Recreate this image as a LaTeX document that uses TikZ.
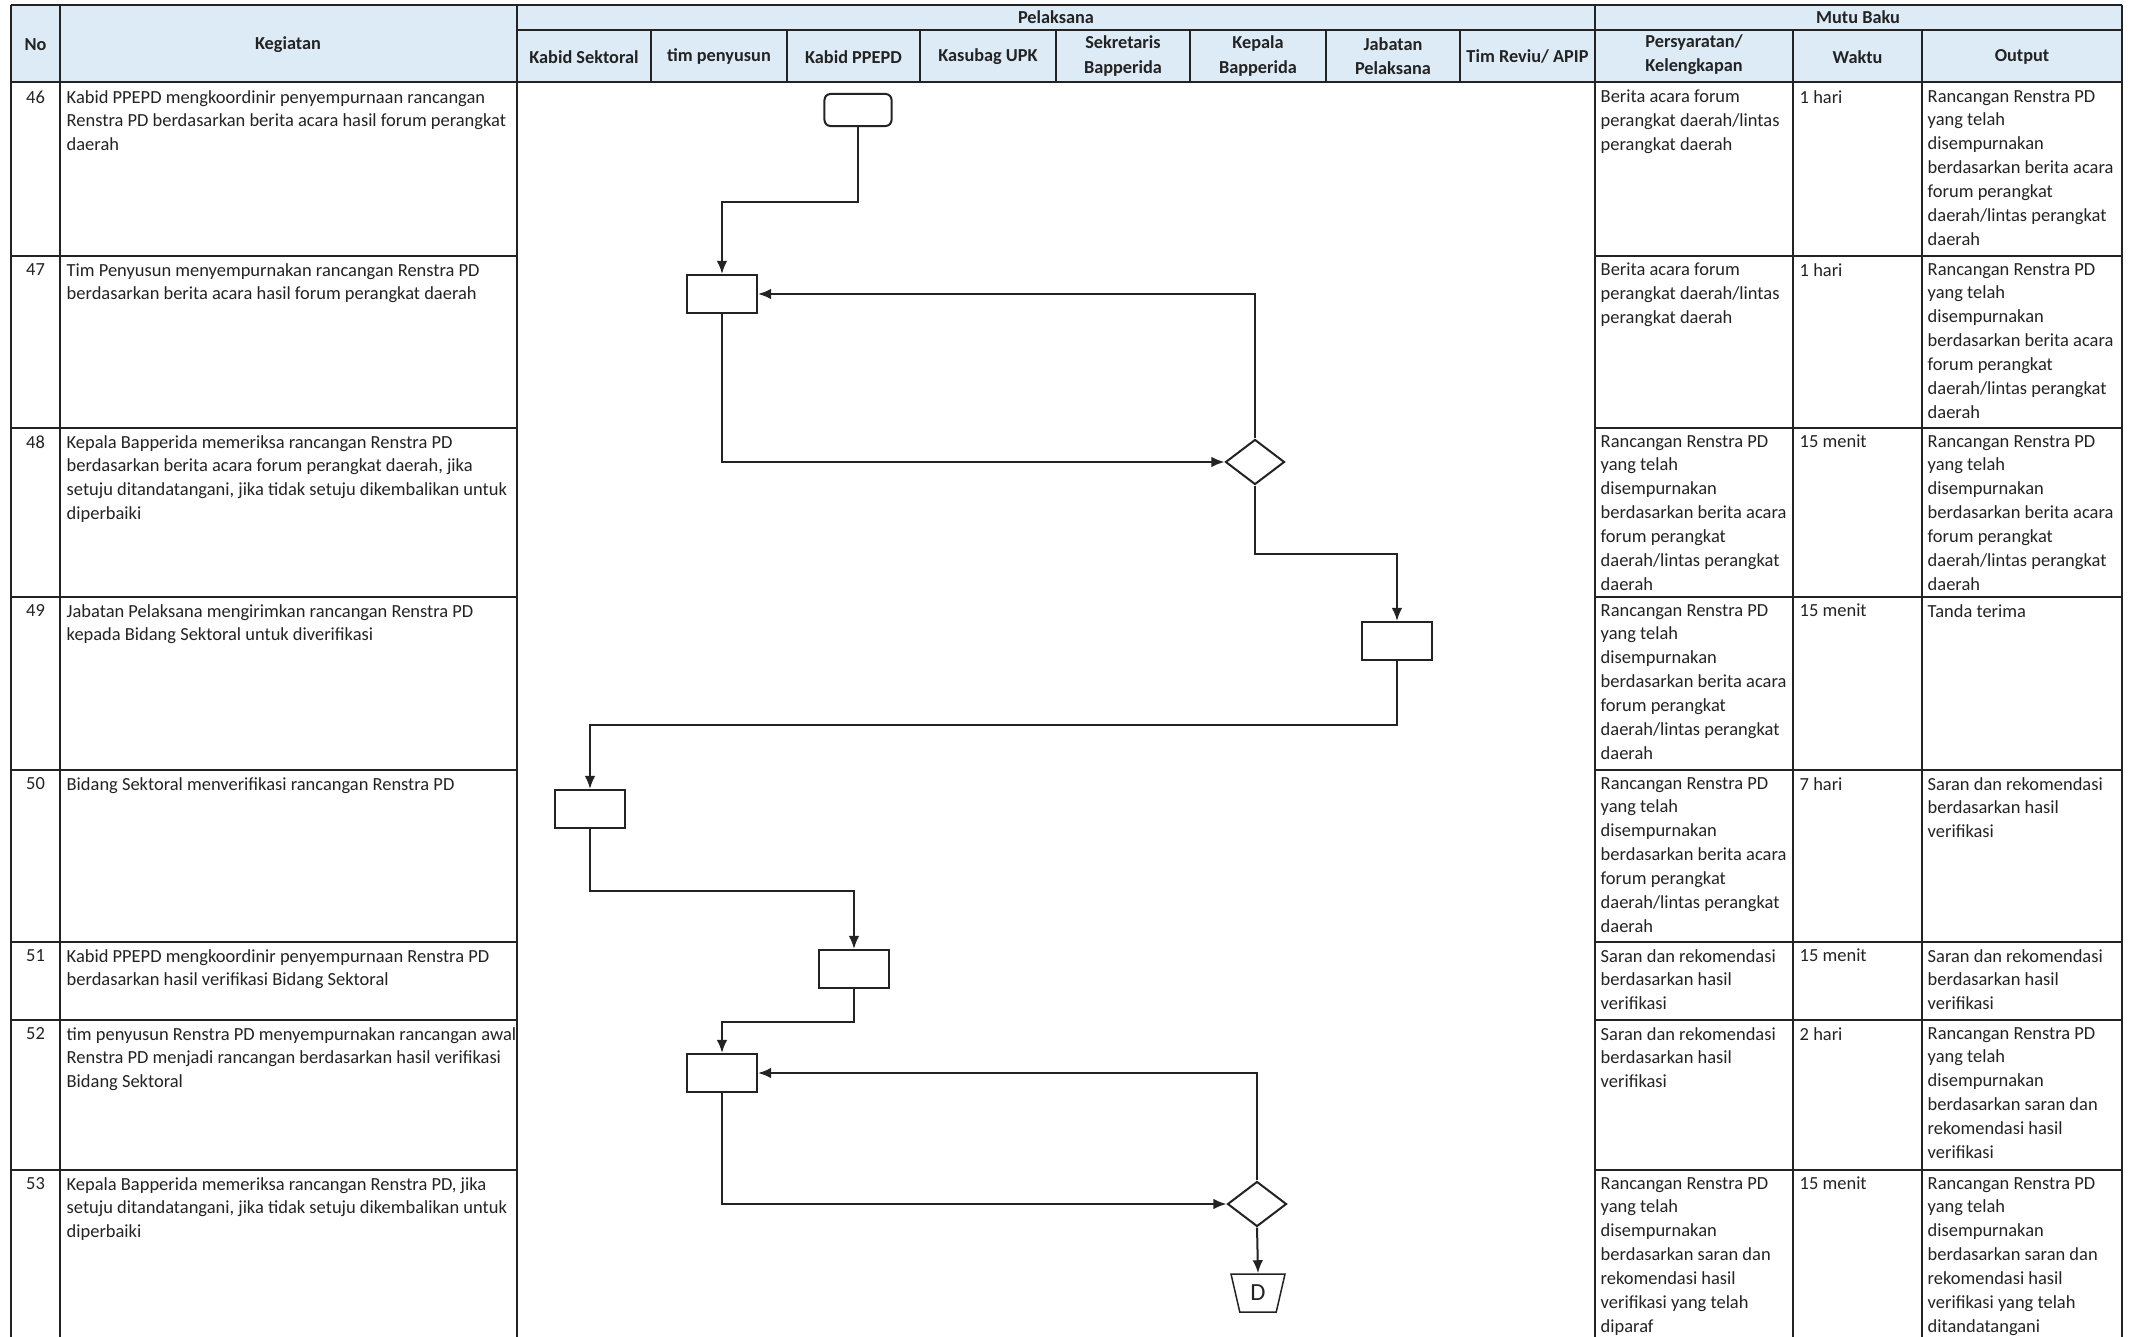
\documentclass[tikz,border=0pt]{standalone}
\usepackage{fontspec}
\setmainfont{Carlito}
\usetikzlibrary{shapes.geometric,arrows.meta}
\definecolor{ink}{RGB}{35,35,35}
\definecolor{headblue}{RGB}{221,235,246}
\newcommand{\bodyfont}{\fontsize{5.25}{6.78}\selectfont}
\newcommand{\headfont}{\fontsize{5.2}{6.9}\selectfont\bfseries}
\tikzset{
  cell/.style={anchor=north west,inner sep=0pt,align=left,font=\bodyfont,text=ink},
  nocell/.style={anchor=north,inner sep=0pt,font=\bodyfont,text=ink},
  headtxt/.style={inner sep=0pt,align=center,font=\headfont,text=ink},
  tabline/.style={line width=0.028cm,draw=ink},
  actbox/.style={draw=ink,line width=0.02cm,minimum width=0.70cm,minimum height=0.38cm,inner sep=0pt},
  startbox/.style={actbox,rounded corners=0.06cm,minimum width=0.67cm,minimum height=0.32cm},
  decide/.style={draw=ink,line width=0.02cm,diamond,minimum width=0.59cm,minimum height=0.45cm,inner sep=0pt},
  offpage/.style={draw=ink,line width=0.015cm,trapezium,shape border rotate=180,trapezium left angle=77,trapezium right angle=77,trapezium stretches=true,minimum width=0.54cm,minimum height=0.38cm,inner sep=0pt,font=\fontsize{7}{8}\selectfont,text=ink},
  flow/.style={draw=ink,line width=0.02cm,-{Latex[length=0.13cm,width=0.105cm]}},
}
\begin{document}
\begin{tikzpicture}[x=0.01cm,y=-0.01cm]
\clip (0,0) rectangle (2143,1337);
\fill[white] (0,0) rectangle (2143,1337);
\fill[headblue] (11,5) rectangle (2122,82);
\draw[tabline] (11,5) -- (2122,5);
\draw[tabline] (517,30) -- (2122,30);
\draw[tabline] (11,82) -- (2122,82);
\foreach \y in {256,428,597,770,942,1020,1170}{
  \draw[tabline] (11,\y) -- (517,\y);
  \draw[tabline] (1595,\y) -- (2122,\y);
}
\foreach \x in {11,60,517,1595,2122} \draw[tabline] (\x,5) -- (\x,1337);
\foreach \x in {651,787,920,1056,1190,1326,1460} \draw[tabline] (\x,30) -- (\x,82);
\foreach \x in {1793,1922} \draw[tabline] (\x,30) -- (\x,1337);

\node[headtxt] (hNo) at (35.5,45) {No};
\node[headtxt] (hKeg) at (288,45) {Kegiatan};
\node[headtxt] (hPel) at (1056,17.5) {Pelaksana};
\node[headtxt] (hMutu) at (1858,17.5) {Mutu Baku};
\node[headtxt] (lKabSek) at (584,57) {Kabid Sektoral};
\node[headtxt] (lTim) at (719,57) {tim penyusun};
\node[headtxt] (lKabPP) at (853.5,57) {Kabid PPEPD};
\node[headtxt] (lKasub) at (988,57) {Kasubag UPK};
\node[headtxt] (lSekre) at (1123,56) {Sekretaris\\Bapperida};
\node[headtxt] (lKepala) at (1258,56) {Kepala\\Bapperida};
\node[headtxt] (lJab) at (1393,56) {Jabatan\\Pelaksana};
\node[headtxt] (lReviu) at (1527.5,57) {Tim Reviu/ APIP};
\node[headtxt] (hSyarat) at (1694,55) {Persyaratan/\\Kelengkapan};
\node[headtxt] (hWaktu) at (1857.5,57) {Waktu};
\node[headtxt] (hOut) at (2022,57) {Output};

\node[nocell] (no46) at (35.5,90) {46};
\node[cell] (keg46) at (66,89.5) {Kabid PPEPD mengkoordinir penyempurnaan rancangan\\Renstra PD berdasarkan berita acara hasil forum perangkat\\daerah};
\node[cell] (syr46) at (1600,89.5) {Berita acara forum\\perangkat daerah/lintas\\perangkat daerah};
\node[cell] (wkt46) at (1799,89.5) {1 hari};
\node[cell] (out46) at (1927,89.5) {Rancangan Renstra PD\\yang telah\\disempurnakan\\berdasarkan berita acara\\forum perangkat\\daerah/lintas perangkat\\daerah};

\node[nocell] (no47) at (35.5,263) {47};
\node[cell] (keg47) at (66,262.5) {Tim Penyusun menyempurnakan rancangan Renstra PD\\berdasarkan berita acara hasil forum perangkat daerah};
\node[cell] (syr47) at (1600,262.5) {Berita acara forum\\perangkat daerah/lintas\\perangkat daerah};
\node[cell] (wkt47) at (1799,262.5) {1 hari};
\node[cell] (out47) at (1927,262.5) {Rancangan Renstra PD\\yang telah\\disempurnakan\\berdasarkan berita acara\\forum perangkat\\daerah/lintas perangkat\\daerah};

\node[nocell] (no48) at (35.5,435) {48};
\node[cell] (keg48) at (66,434.5) {Kepala Bapperida memeriksa rancangan Renstra PD\\berdasarkan berita acara forum perangkat daerah, jika\\setuju ditandatangani, jika tidak setuju dikembalikan untuk\\diperbaiki};
\node[cell] (syr48) at (1600,434.5) {Rancangan Renstra PD\\yang telah\\disempurnakan\\berdasarkan berita acara\\forum perangkat\\daerah/lintas perangkat\\daerah};
\node[cell] (wkt48) at (1799,434.5) {15 menit};
\node[cell] (out48) at (1927,434.5) {Rancangan Renstra PD\\yang telah\\disempurnakan\\berdasarkan berita acara\\forum perangkat\\daerah/lintas perangkat\\daerah};

\node[nocell] (no49) at (35.5,604) {49};
\node[cell] (keg49) at (66,603.5) {Jabatan Pelaksana mengirimkan rancangan Renstra PD\\kepada Bidang Sektoral untuk diverifikasi};
\node[cell] (syr49) at (1600,603.5) {Rancangan Renstra PD\\yang telah\\disempurnakan\\berdasarkan berita acara\\forum perangkat\\daerah/lintas perangkat\\daerah};
\node[cell] (wkt49) at (1799,603.5) {15 menit};
\node[cell] (out49) at (1927,603.5) {Tanda terima};

\node[nocell] (no50) at (35.5,777) {50};
\node[cell] (keg50) at (66,776.5) {Bidang Sektoral menverifikasi rancangan Renstra PD};
\node[cell] (syr50) at (1600,776.5) {Rancangan Renstra PD\\yang telah\\disempurnakan\\berdasarkan berita acara\\forum perangkat\\daerah/lintas perangkat\\daerah};
\node[cell] (wkt50) at (1799,776.5) {7 hari};
\node[cell] (out50) at (1927,776.5) {Saran dan rekomendasi\\berdasarkan hasil\\verifikasi};

\node[nocell] (no51) at (35.5,949) {51};
\node[cell] (keg51) at (66,948.5) {Kabid PPEPD mengkoordinir penyempurnaan Renstra PD\\berdasarkan hasil verifikasi Bidang Sektoral};
\node[cell] (syr51) at (1600,948.5) {Saran dan rekomendasi\\berdasarkan hasil\\verifikasi};
\node[cell] (wkt51) at (1799,948.5) {15 menit};
\node[cell] (out51) at (1927,948.5) {Saran dan rekomendasi\\berdasarkan hasil\\verifikasi};

\node[nocell] (no52) at (35.5,1027) {52};
\node[cell] (keg52) at (66,1026.5) {tim penyusun Renstra PD menyempurnakan rancangan awal\\Renstra PD menjadi rancangan berdasarkan hasil verifikasi\\Bidang Sektoral};
\node[cell] (syr52) at (1600,1026.5) {Saran dan rekomendasi\\berdasarkan hasil\\verifikasi};
\node[cell] (wkt52) at (1799,1026.5) {2 hari};
\node[cell] (out52) at (1927,1026.5) {Rancangan Renstra PD\\yang telah\\disempurnakan\\berdasarkan saran dan\\rekomendasi hasil\\verifikasi};

\node[nocell] (no53) at (35.5,1177) {53};
\node[cell] (keg53) at (66,1176.5) {Kepala Bapperida memeriksa rancangan Renstra PD, jika\\setuju ditandatangani, jika tidak setuju dikembalikan untuk\\diperbaiki};
\node[cell] (syr53) at (1600,1176.5) {Rancangan Renstra PD\\yang telah\\disempurnakan\\berdasarkan saran dan\\rekomendasi hasil\\verifikasi yang telah\\diparaf};
\node[cell] (wkt53) at (1799,1176.5) {15 menit};
\node[cell] (out53) at (1927,1176.5) {Rancangan Renstra PD\\yang telah\\disempurnakan\\berdasarkan saran dan\\rekomendasi hasil\\verifikasi yang telah\\ditandatangani};

\node[startbox] (s46) at (858,110) {};
\node[actbox] (b47) at (722,294) {};
\node[decide] (d48) at (1255,462) {};
\node[actbox] (b49) at (1397,641) {};
\node[actbox] (b50) at (590,809) {};
\node[actbox] (b51) at (854,969) {};
\node[actbox] (b52) at (722,1073) {};
\node[decide] (d53) at (1257,1204) {};
\node[offpage] (offD) at (1258,1293) {D};

\draw[flow] (s46.south) --++(0,75) -| (b47.north);
\draw[flow] (b47.south) |- (d48.west);
\draw[flow] (d48.north) |- (b47.east);
\draw[flow] (d48.south) --++(0,68) -| (b49.north);
\draw[flow] (b49.south) --++(0,64) -| (b50.north);
\draw[flow] (b50.south) --++(0,62) -| (b51.north);
\draw[flow] (b51.south) --++(0,33) -| (b52.north);
\draw[flow] (b52.south) |- (d53.west);
\draw[flow] (d53.north) |- (b52.east);
\draw[flow] (d53.south) -- (offD.north);
\end{tikzpicture}
\end{document}
